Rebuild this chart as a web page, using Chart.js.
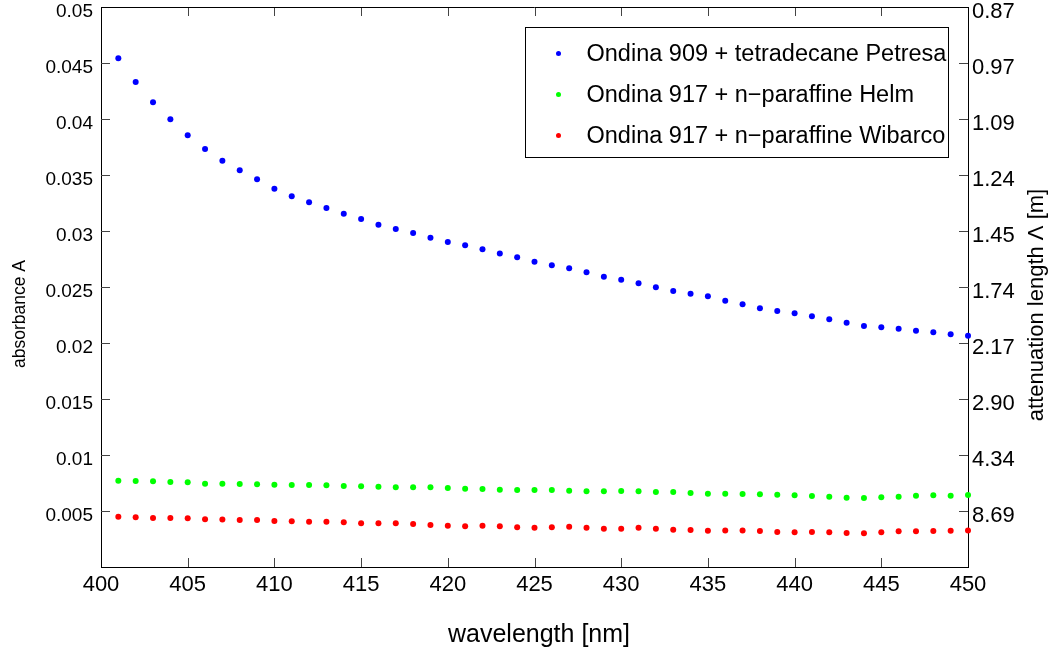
<!DOCTYPE html>
<html>
<head>
<meta charset="utf-8">
<script src="https://cdn.jsdelivr.net/npm/chart.js@4.4.1/dist/chart.umd.min.js"></script>
<style>
  body { margin: 0; background: #fff; }
  #wrap { width: 1052px; height: 654px; }
</style>
</head>
<body>
<div id="wrap"><canvas id="absChart" width="1052" height="654"></canvas></div>
<script>
// wavelengths [nm]
const wavelengths = [
    401, 402, 403, 404, 405, 406, 407, 408, 409, 410,
    411, 412, 413, 414, 415, 416, 417, 418, 419, 420,
    421, 422, 423, 424, 425, 426, 427, 428, 429, 430,
    431, 432, 433, 434, 435, 436, 437, 438, 439, 440,
    441, 442, 443, 444, 445, 446, 447, 448, 449, 450
];

// absorbance A
const petresa = [
    0.04542, 0.04330, 0.04149, 0.03997, 0.03854, 0.03732, 0.03628, 0.03542, 0.03461, 0.03378,
    0.03310, 0.03256, 0.03205, 0.03155, 0.03107, 0.03056, 0.03018, 0.02982, 0.02940, 0.02902,
    0.02872, 0.02836, 0.02798, 0.02765, 0.02726, 0.02694, 0.02667, 0.02631, 0.02592, 0.02565,
    0.02533, 0.02497, 0.02464, 0.02440, 0.02417, 0.02378, 0.02345, 0.02310, 0.02286, 0.02265,
    0.02238, 0.02212, 0.02181, 0.02152, 0.02140, 0.02128, 0.02110, 0.02096, 0.02078, 0.02065
];
const helm = [
    0.00771, 0.00768, 0.00765, 0.00759, 0.00756, 0.00744, 0.00744, 0.00741, 0.00738, 0.00735,
    0.00732, 0.00732, 0.00729, 0.00723, 0.00720, 0.00717, 0.00711, 0.00711, 0.00711, 0.00705,
    0.00699, 0.00696, 0.00690, 0.00687, 0.00687, 0.00687, 0.00681, 0.00676, 0.00676, 0.00679,
    0.00676, 0.00670, 0.00670, 0.00661, 0.00655, 0.00655, 0.00652, 0.00649, 0.00646, 0.00640,
    0.00634, 0.00628, 0.00619, 0.00616, 0.00622, 0.00628, 0.00637, 0.00640, 0.00637, 0.00643
];
const wibarco = [
    0.00449, 0.00444, 0.00438, 0.00438, 0.00435, 0.00426, 0.00423, 0.00420, 0.00420, 0.00411,
    0.00408, 0.00405, 0.00405, 0.00399, 0.00390, 0.00390, 0.00390, 0.00384, 0.00375, 0.00369,
    0.00363, 0.00369, 0.00363, 0.00354, 0.00351, 0.00354, 0.00360, 0.00351, 0.00342, 0.00342,
    0.00351, 0.00342, 0.00333, 0.00330, 0.00324, 0.00327, 0.00327, 0.00321, 0.00312, 0.00310,
    0.00312, 0.00310, 0.00304, 0.00301, 0.00310, 0.00319, 0.00319, 0.00321, 0.00324, 0.00327
];

const seriesNames = [
    'Ondina 909 + tetradecane Petresa',
    'Ondina 917 + n\u2212paraffine Helm',
    'Ondina 917 + n\u2212paraffine Wibarco'
];
const seriesColors = ['#0000ff', '#00ff00', '#ff0000'];

// tick labels, bottom to top (0 has no label)
const leftTickLabels = ['', '0.005', '0.01', '0.015', '0.02', '0.025', '0.03', '0.035', '0.04', '0.045', '0.05'];
const rightTickLabels = ['', '8.69', '4.34', '2.90', '2.17', '1.74', '1.45', '1.24', '1.09', '0.97', '0.87'];

const xTitle = 'wavelength [nm]';
const leftTitle = 'absorbance A';
const rightTitle = 'attenuation length \u039B [m]';

const FONT = '"Liberation Sans", Arial, sans-serif';

function toPoints(values) {
    return wavelengths.map((w, i) => ({ x: w, y: values[i] }));
}

// matlab style ticks pointing into the plot box, plus the top border
const innerTicks = {
    id: 'innerTicks',
    afterDraw(chart) {
        const ctx = chart.ctx;
        const a = chart.chartArea;
        const len = 9;
        ctx.save();
        ctx.strokeStyle = '#444';
        ctx.lineWidth = 1;
        ctx.beginPath();
        const xs = chart.scales.x;
        xs.ticks.forEach((t, i) => {
            const px = Math.round(xs.getPixelForTick(i)) + 0.5;
            if (px <= a.left + 1 || px >= a.right - 1) return;
            ctx.moveTo(px, a.bottom); ctx.lineTo(px, a.bottom - len);
            ctx.moveTo(px, a.top); ctx.lineTo(px, a.top + len);
        });
        const ys = chart.scales.y;
        ys.ticks.forEach((t, i) => {
            const py = Math.round(ys.getPixelForTick(i)) + 0.5;
            if (py <= a.top + 1 || py >= a.bottom - 1) return;
            ctx.moveTo(a.left, py); ctx.lineTo(a.left + len, py);
            ctx.moveTo(a.right, py); ctx.lineTo(a.right - len, py);
        });
        ctx.stroke();
        ctx.strokeStyle = '#000';
        ctx.beginPath();
        ctx.moveTo(a.left, Math.round(a.top) + 0.5);
        ctx.lineTo(a.right, Math.round(a.top) + 0.5);
        ctx.stroke();
        ctx.restore();
    }
};

// axis titles; both y titles read bottom to top, as in the original
const axisTitles = {
    id: 'axisTitles',
    afterDraw(chart) {
        const ctx = chart.ctx;
        ctx.save();
        ctx.fillStyle = '#000';
        ctx.textAlign = 'center';
        ctx.textBaseline = 'middle';
        ctx.font = '25px ' + FONT;
        ctx.fillText(xTitle, 539, 635);
        [[20, 17.5, 314, leftTitle], [1037, 22, 305, rightTitle]].forEach(([x, size, y, text]) => {
            ctx.save();
            ctx.translate(x, y);
            ctx.rotate(-Math.PI / 2);
            ctx.font = size + 'px ' + FONT;
            ctx.fillText(text, 0, 0);
            ctx.restore();
        });
        ctx.restore();
    }
};

// boxed legend in the upper right of the plot
const boxLegend = {
    id: 'boxLegend',
    afterDraw(chart) {
        const ctx = chart.ctx;
        const a = chart.chartArea;
        const w = 423, h = 130;
        const bx = Math.round(a.right - 20 - w) + 0.5;
        const by = Math.round(a.top + 20) + 0.5;
        ctx.save();
        ctx.fillStyle = '#fff';
        ctx.fillRect(bx, by, w, h);
        ctx.strokeStyle = '#000';
        ctx.lineWidth = 1;
        ctx.strokeRect(bx, by, w, h);
        ctx.font = '23.5px ' + FONT;
        ctx.textBaseline = 'middle';
        chart.data.datasets.forEach((ds, i) => {
            const cy = by + 26 + i * 41;
            ctx.fillStyle = ds.backgroundColor;
            ctx.beginPath();
            ctx.arc(bx + 33, cy, 2.5, 0, Math.PI * 2);
            ctx.fill();
            ctx.fillStyle = '#000';
            ctx.fillText(ds.label, bx + 61, cy + 1);
        });
        ctx.restore();
    }
};

function noPad(s) {
    s.paddingTop = 0;
    s.paddingBottom = 0;
    s.paddingLeft = 0;
    s.paddingRight = 0;
}

const ctx = document.getElementById('absChart').getContext('2d');
const absChart = new Chart(ctx, {
    type: 'scatter',
    data: {
        datasets: [petresa, helm, wibarco].map((vals, i) => ({
            label: seriesNames[i],
            data: toPoints(vals),
            backgroundColor: seriesColors[i],
            borderColor: seriesColors[i],
            pointRadius: 3,
            pointBorderWidth: 0,
            showLine: false,
            clip: false
        }))
    },
    options: {
        responsive: false,
        animation: false,
        layout: { padding: { top: 7, left: 0, right: 0, bottom: 0 } },
        plugins: {
            legend: { display: false },
            tooltip: { enabled: false }
        },
        scales: {
            x: {
                type: 'linear',
                min: 400,
                max: 450,
                afterFit: s => { s.height = 87; noPad(s); },
                grid: { display: false, drawTicks: false },
                border: { display: true, color: '#000', width: 1 },
                ticks: {
                    stepSize: 5,
                    padding: 5,
                    color: '#000',
                    font: { family: FONT, size: 22 }
                }
            },
            y: {
                position: 'left',
                min: 0,
                max: 0.05,
                afterFit: s => { s.width = 101; noPad(s); },
                grid: { display: false, drawTicks: false },
                border: { display: true, color: '#000', width: 1 },
                ticks: {
                    stepSize: 0.005,
                    padding: 8,
                    labelOffset: 5,
                    color: '#000',
                    font: { family: FONT, size: 19 },
                    callback: (v, i) => leftTickLabels[i]
                }
            },
            y2: {
                position: 'right',
                min: 0,
                max: 0.05,
                afterFit: s => { s.width = 84; noPad(s); },
                grid: { display: false, drawTicks: false },
                border: { display: true, color: '#000', width: 1 },
                ticks: {
                    stepSize: 0.005,
                    padding: 4,
                    labelOffset: 5,
                    color: '#000',
                    font: { family: FONT, size: 22 },
                    callback: (v, i) => rightTickLabels[i]
                }
            }
        }
    },
    plugins: [innerTicks, axisTitles, boxLegend]
});
</script>
</body>
</html>
